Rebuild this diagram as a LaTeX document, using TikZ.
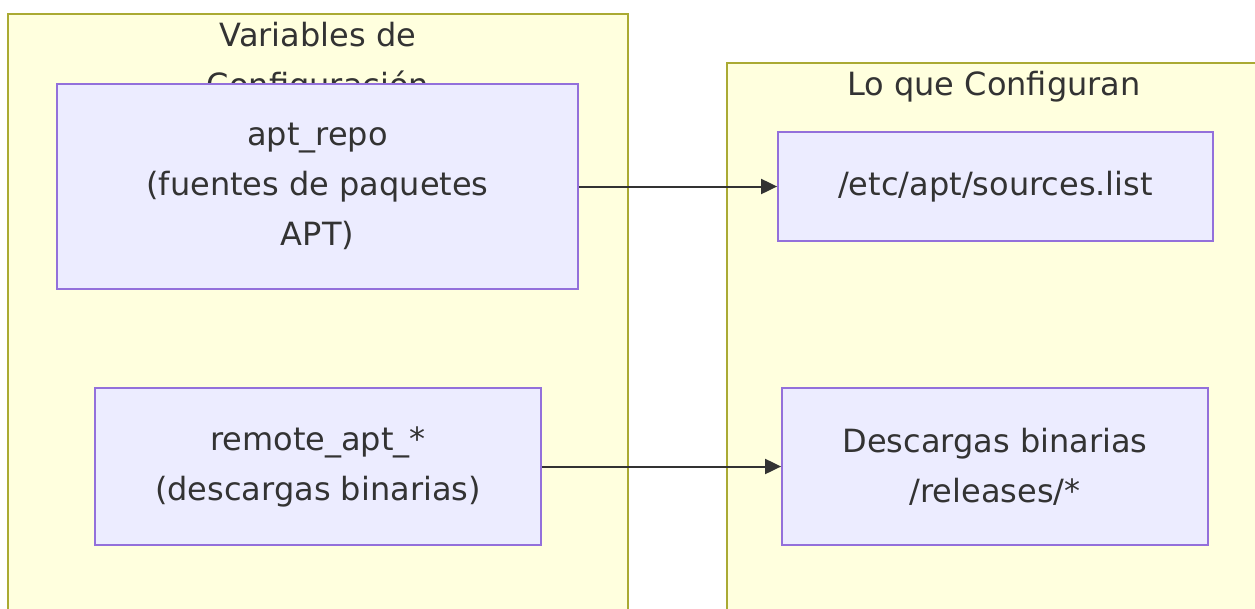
\documentclass[tikz,border=0pt]{standalone}
\usepackage{fontspec}
\setmainfont{DejaVu Sans}
\usetikzlibrary{arrows.meta}
\definecolor{clfill}{HTML}{FFFFDE}
\definecolor{clline}{HTML}{AAAA33}
\definecolor{ndfill}{HTML}{ECECFF}
\definecolor{ndline}{HTML}{9370DB}
\definecolor{txt}{HTML}{333333}
\tikzset{
  cluster/.style={draw=clline, fill=clfill, line width=1.5pt},
  box/.style={draw=ndline, fill=ndfill, line width=1.8pt, align=center, text=txt,
    font=\fontsize{32}{50}\selectfont, inner sep=0pt},
  ctitle/.style={text=txt, align=center, font=\fontsize{32}{50}\selectfont, inner sep=0pt},
  conn/.style={draw=txt, line width=2pt, -{Triangle[length=16pt,width=15pt]}}
}
\begin{document}
\begin{tikzpicture}[x=1pt,y=-1pt]
\useasboundingbox (0,0) rectangle (1255,608);
\clip (0,0) rectangle (1255,608);
\path[cluster] (8,14) rectangle (628,640);
\path[cluster] (727,63) rectangle (1262,640);
\node[ctitle] (t1) at (318,63) {Variables de\\Configuración};
\node[ctitle] (t2) at (994,87) {Lo que Configuran};
\node[box, minimum width=521pt, minimum height=205pt] (apt) at (317.5,186.5)
  {apt\_repo\\(fuentes de paquetes\\APT)};
\node[box, minimum width=446pt, minimum height=157pt] (remote) at (318,466.5)
  {remote\_apt\_*\\(descargas binarias)};
\node[box, minimum width=435pt, minimum height=109pt] (src) at (995.5,186.5)
  {/etc/apt/sources.list};
\node[box, minimum width=426pt, minimum height=157pt] (desc) at (995,466.5)
  {Descargas binarias\\/releases/*};
\draw[conn] (apt.east) -- (src.west);
\draw[conn] (remote.east) -- (desc.west);
\end{tikzpicture}
\end{document}
